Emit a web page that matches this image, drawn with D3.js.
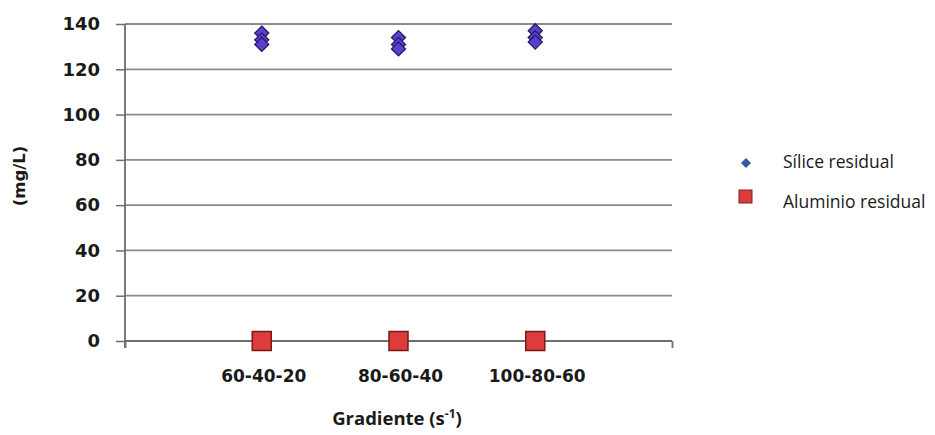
<!DOCTYPE html>
<html>
<head>
<meta charset="utf-8">
<script src="https://cdn.jsdelivr.net/npm/d3@7"></script>
<style>
  html, body { margin: 0; padding: 0; background: #ffffff; }
  svg { display: block; }
</style>
</head>
<body>
<svg id="chart" width="935" height="435"></svg>
<script>
// ---- data ----
const categories = ["60-40-20", "80-60-40", "100-80-60"];
const categoryX = [1, 2, 3];
const siliceValues = [
  [136, 133, 131],
  [134, 131, 129],
  [137, 134, 132]
];
const aluminioValues = [0, 0, 0];
const yTicks = [0, 20, 40, 60, 80, 100, 120, 140];
const seriesNames = ["Sílice residual", "Aluminio residual"];

// ---- layout ----
const svg = d3.select("#chart");
const x = d3.scaleLinear().domain([0, 4]).range([125, 672]);
const y = d3.scaleLinear().domain([0, 140]).range([341, 24]);

const gridColor = "#8a8a8a";
const axisColor = "#6e6e6e";

// gridlines
svg.append("g").selectAll("line")
  .data(yTicks.filter(d => d !== 0))
  .join("line")
  .attr("x1", x(0)).attr("x2", x(4))
  .attr("y1", d => y(d)).attr("y2", d => y(d))
  .attr("stroke", gridColor).attr("stroke-width", 1.8);

// y axis
const yAxis = d3.axisLeft(y).tickValues(yTicks).tickSize(9).tickPadding(16);
const gy = svg.append("g").attr("transform", `translate(${x(0)},0)`).call(yAxis);
gy.select(".domain").remove();
gy.selectAll(".tick line").attr("stroke", axisColor).attr("stroke-width", 1.5);
gy.selectAll(".tick text")
  .attr("font-family", "DejaVu Sans").attr("font-weight", "bold")
  .attr("font-size", 18).attr("fill", "#1a1a1a");
svg.append("line")
  .attr("x1", x(0)).attr("x2", x(0))
  .attr("y1", y(140)).attr("y2", y(0) + 7)
  .attr("stroke", axisColor).attr("stroke-width", 1.8);

// x axis
const xAxis = d3.axisBottom(x).tickValues([0, 4]).tickSize(7).tickFormat("");
const gx = svg.append("g").attr("transform", `translate(0,${y(0)})`).call(xAxis);
gx.select(".domain").attr("stroke", axisColor).attr("stroke-width", 1.8).attr("d", `M${x(0)},0H${x(4)}`);
gx.selectAll(".tick line").attr("stroke", axisColor).attr("stroke-width", 1.8);

// category labels
svg.append("g").selectAll("text")
  .data(categories)
  .join("text")
  .attr("x", (d, i) => x(categoryX[i]) + 2)
  .attr("y", 382)
  .attr("text-anchor", "middle")
  .attr("font-family", "DejaVu Sans").attr("font-weight", "bold")
  .attr("font-size", 17).attr("fill", "#1a1a1a")
  .text(d => d);

// axis titles
svg.append("text")
  .attr("transform", `translate(25,176) rotate(-90)`)
  .attr("text-anchor", "middle")
  .attr("font-family", "DejaVu Sans").attr("font-weight", "bold")
  .attr("font-size", 16.5).attr("fill", "#1a1a1a")
  .text("(mg/L)");

const xt = svg.append("text")
  .attr("x", 397).attr("y", 425)
  .attr("text-anchor", "middle")
  .attr("font-family", "Open Sans").attr("font-weight", "bold")
  .attr("font-size", 18.5).attr("fill", "#1a1a1a");
xt.append("tspan").text("Gradiente (s");
xt.append("tspan").attr("font-size", 12).attr("dy", -7).text("-1");
xt.append("tspan").attr("dy", 7).text(")");

// markers
const diamond = (w, h) => `M0,${-h / 2}L${w / 2},0L0,${h / 2}L${-w / 2},0Z`;
const silicePoints = [];
siliceValues.forEach((vals, i) => vals.forEach(v => silicePoints.push({ xi: categoryX[i], v })));

svg.append("g").selectAll("path")
  .data(silicePoints)
  .join("path")
  .attr("d", diamond(14, 14))
  .attr("transform", d => `translate(${x(d.xi)},${y(d.v)})`)
  .attr("fill", "#5a3ecf")
  .attr("stroke", "#241a5c").attr("stroke-width", 1.3);

svg.append("g").selectAll("rect")
  .data(aluminioValues)
  .join("rect")
  .attr("x", (d, i) => x(categoryX[i]) - 9.5)
  .attr("y", d => y(d) - 9.5)
  .attr("width", 19).attr("height", 19)
  .attr("fill", "#dc3c3c")
  .attr("stroke", "#7a1818").attr("stroke-width", 1.5);

// legend
const lg = svg.append("g");
lg.append("path")
  .attr("d", diamond(9, 9))
  .attr("transform", "translate(746,163)")
  .attr("fill", "#2d5ca8").attr("stroke", "#1d3d78").attr("stroke-width", 0.8);
lg.append("rect")
  .attr("x", 739).attr("y", 190).attr("width", 13).attr("height", 13)
  .attr("fill", "#dc3c3c").attr("stroke", "#8a1a1a").attr("stroke-width", 1);
lg.selectAll("text")
  .data(seriesNames)
  .join("text")
  .attr("x", 783)
  .attr("y", (d, i) => i === 0 ? 168 : 208)
  .attr("font-family", "Open Sans")
  .attr("font-size", 17.5).attr("fill", "#1a1a1a")
  .text(d => d);
</script>
</body>
</html>
